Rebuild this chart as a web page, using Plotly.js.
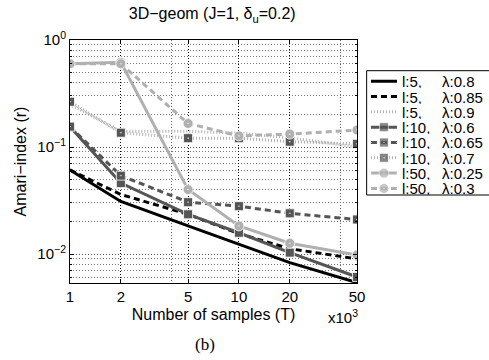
<!DOCTYPE html>
<html>
<head>
<meta charset="utf-8">
<script src="https://cdn.plot.ly/plotly-3.0.1.min.js"></script>
<style>html,body{margin:0;padding:0;background:#fff;}#chart{width:489px;height:360px;}</style>
</head>
<body>
<div id="chart"></div>
<script>
// ---- data ----
const T = [1, 2, 5, 10, 20, 50];
const lLabels = ["l:5,", "l:5,", "l:5,", "l:10,", "l:10,", "l:10,", "l:50,", "l:50,"];
const lambdaLabels = ["\u03bb:0.8", "\u03bb:0.85", "\u03bb:0.9", "\u03bb:0.6", "\u03bb:0.65", "\u03bb:0.7", "\u03bb:0.25", "\u03bb:0.3"];
const l5_080 = [0.061, 0.031, 0.0183, 0.0124, 0.0083, 0.0054];
const l5_085 = [0.061, 0.036, 0.0235, 0.0155, 0.0112, 0.0090];
const l5_090 = [0.25, 0.14, 0.14, 0.135, 0.122, 0.100];
const l10_060 = [0.155, 0.046, 0.0235, 0.0158, 0.0103, 0.0061];
const l10_065 = [0.155, 0.054, 0.0305, 0.028, 0.024, 0.021];
const l10_070 = [0.265, 0.136, 0.121, 0.121, 0.112, 0.107];
const l50_025 = [0.60, 0.62, 0.040, 0.0183, 0.0126, 0.0098];
const l50_030 = [0.60, 0.60, 0.166, 0.127, 0.132, 0.144];
const xTickVals = [1, 2, 5, 10, 20, 50];
const xTickText = ["1", "2", "5", "10", "20", "50"];
const yTickVals = [0.01, 0.1, 1];
const yTickText = ["10<sup>\u22122</sup>", "10<sup>\u22121</sup>", "10<sup>0</sup>"];

// ---- styles ----
const BLACK = "#000000", DARK = "#555555", LIGHT = "#b0b0b0";
const series = [
  {y: l5_080, color: BLACK, dash: "solid", symbol: null},
  {y: l5_085, color: BLACK, dash: "6px,4px", symbol: null},
  {y: l5_090, color: LIGHT, dash: "1px,2px", symbol: null},
  {y: l10_060, color: DARK, dash: "solid", symbol: "square", mcolor: DARK},
  {y: l10_065, color: DARK, dash: "6px,4px", symbol: "square-dot", mcolor: DARK},
  {y: l10_070, color: LIGHT, dash: "1px,2px", symbol: "square-dot", mcolor: DARK},
  {y: l50_025, color: LIGHT, dash: "solid", symbol: "circle-dot", mcolor: LIGHT},
  {y: l50_030, color: LIGHT, dash: "6px,4px", symbol: "circle-dot", mcolor: LIGHT}
];
const LW = 3;
const traces = [];
series.forEach(function(s) {
  const t = {x: T, y: s.y, type: "scatter", mode: s.symbol ? "lines+markers" : "lines",
    line: {color: s.color, width: LW, dash: s.dash}, showlegend: false, hoverinfo: "skip",
    xaxis: "x", yaxis: "y"};
  if (s.symbol) t.marker = {symbol: s.symbol, size: s.symbol.indexOf("circle") === 0 ? 10 : 9,
    color: s.mcolor, line: {color: "#ffffff", width: 0.8}};
  traces.push(t);
});
// legend samples on a separate small axis pair
const annotations = [];
series.forEach(function(s, i) {
  const t = {x: [4.3, 17.3, 30.3], y: [i, i, i], type: "scatter", mode: s.symbol ? "lines+markers" : "lines",
    line: {color: s.color, width: LW, dash: s.dash}, showlegend: false, hoverinfo: "skip",
    xaxis: "x2", yaxis: "y2", cliponaxis: false};
  if (s.symbol) t.marker = {symbol: s.symbol, size: [0, s.symbol.indexOf("circle") === 0 ? 10 : 9, 0],
    color: s.mcolor, line: {color: "#ffffff", width: 0.8}};
  traces.push(t);
  annotations.push({xref: "x2", yref: "y2", x: 34.3, y: i, text: lLabels[i], showarrow: false,
    xanchor: "left", yanchor: "middle", height: 14, borderpad: 0, font: {size: 15, color: "#000"}});
  annotations.push({xref: "x2", yref: "y2", x: 74.3, y: i, text: lambdaLabels[i], showarrow: false,
    xanchor: "left", yanchor: "middle", height: 14, borderpad: 0, font: {size: 15, color: "#000"}});
});
annotations.push({xref: "paper", yref: "paper", x: 0.612, y: -0.137, text: "x10<sup>3</sup>", showarrow: false,
  xanchor: "left", yanchor: "middle", font: {size: 15, color: "#000"}});
annotations.push({xref: "paper", yref: "paper", x: 0.323, y: -0.255, text: "(b)", showarrow: false,
  xanchor: "center", yanchor: "middle", font: {size: 17, color: "#000", family: "Liberation Serif, Times New Roman, serif"}});

const FONT = "Liberation Sans, Arial, Helvetica, sans-serif";
const layout = {
  width: 489, height: 360,
  margin: {l: 70, r: 0, t: 40, b: 77},
  paper_bgcolor: "#ffffff", plot_bgcolor: "#ffffff",
  font: {family: FONT, size: 15, color: "#000"},
  showlegend: false,
  title: {text: "3D\u2212geom (J=1, \u03b4<sub>u</sub>=0.2)", font: {size: 16, family: FONT, color: "#000"},
    xref: "container", x: 0.434, xanchor: "center", yref: "container", y: 0.962, yanchor: "middle"},
  xaxis: {type: "log", domain: [0, 0.685], range: [0, Math.log10(50)],
    tickmode: "array", tickvals: xTickVals, ticktext: xTickText,
    ticks: "inside", ticklen: 4, tickcolor: "#000", showline: true, linecolor: "#000", linewidth: 1, mirror: "ticks",
    showgrid: true, gridcolor: "#000", gridwidth: 1, griddash: "1px,2px",
    minor: {tickvals: [4, 40], showgrid: true, gridcolor: "#666", gridwidth: 1, griddash: "1px,2px", ticks: ""},
    zeroline: false, tickfont: {size: 15},
    title: {text: "Number of samples (T)", font: {size: 16}, standoff: 4}},
  yaxis: {type: "log", range: [-2.271, 0],
    tickmode: "array", tickvals: yTickVals, ticktext: yTickText,
    ticks: "inside", ticklen: 4, tickcolor: "#000", showline: true, linecolor: "#000", linewidth: 1, mirror: "ticks",
    showgrid: true, gridcolor: "#555", gridwidth: 1, griddash: "1px,2px",
    minor: {dtick: "D1", showgrid: true, gridcolor: "#777", gridwidth: 1, griddash: "1px,2px", ticks: "inside", ticklen: 2},
    zeroline: false, tickfont: {size: 15},
    title: {text: "Amari\u2212index (r)", font: {size: 16}, standoff: 6}},
  xaxis2: {domain: [0.708, 1], range: [0, 122.3], visible: false, fixedrange: true},
  yaxis2: {domain: [0.3621, 0.8737], range: [7.43, -0.69], visible: false, fixedrange: true, anchor: "x2"},
  shapes: [{type: "rect", xref: "paper", yref: "paper", x0: 0.708, x1: 1.2, y0: 0.3621, y1: 0.8737,
    line: {color: "#000", width: 1}, fillcolor: "#ffffff", layer: "below"}],
  annotations: annotations
};
layout.xaxis2.anchor = "y2";
Plotly.newPlot("chart", traces, layout, {displayModeBar: false, staticPlot: true});
</script>
</body>
</html>
